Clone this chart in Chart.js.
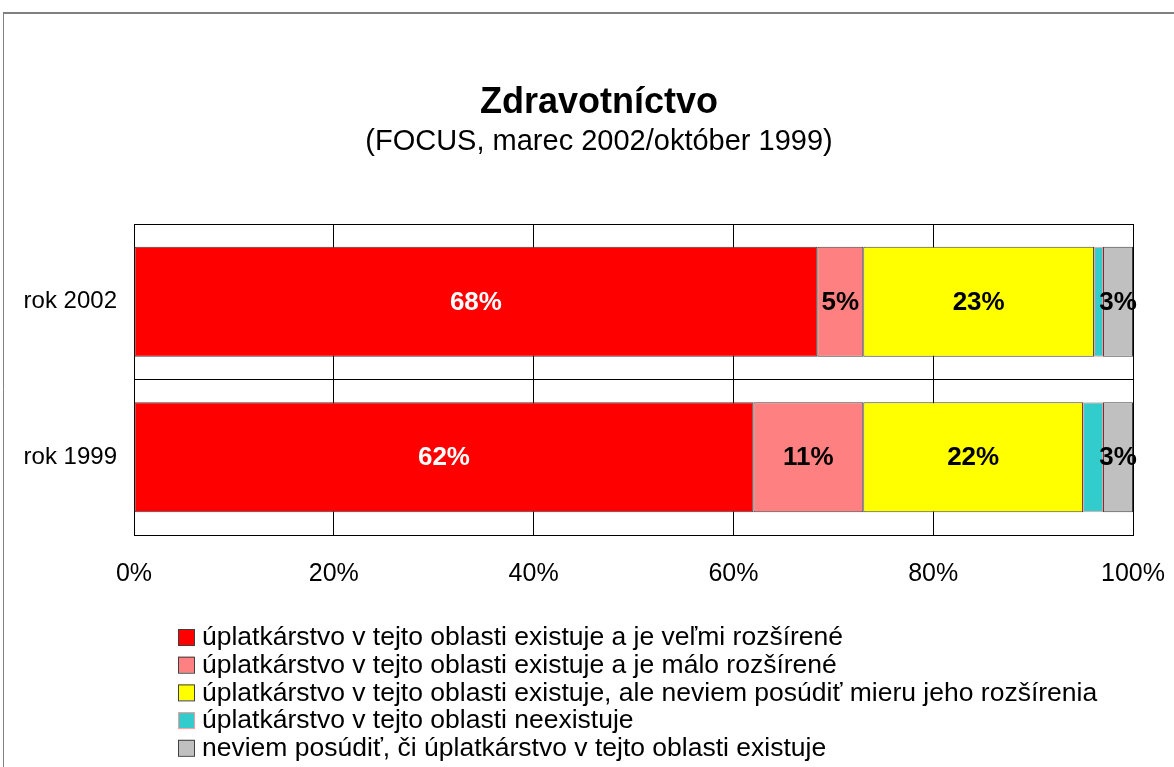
<!DOCTYPE html>
<html>
<head>
<meta charset="utf-8">
<title>Zdravotníctvo</title>
<script src="https://cdn.jsdelivr.net/npm/chart.js@4.4.0/dist/chart.umd.min.js"></script>
<style>
  html, body { margin: 0; padding: 0; background: #fff; }
  canvas { display: block; }
</style>
</head>
<body>
<canvas id="zdravotnictvoChart" width="1174" height="767"></canvas>
<script>
// Kategórie (roky) a hodnoty v percentách, odčítané z grafu
const roky = ["rok 2002", "rok 1999"];
const nazvySerii = [
    "úplatkárstvo v tejto oblasti existuje a je veľmi rozšírené",
    "úplatkárstvo v tejto oblasti existuje a je málo rozšírené",
    "úplatkárstvo v tejto oblasti existuje, ale neviem posúdiť mieru jeho rozšírenia",
    "úplatkárstvo v tejto oblasti neexistuje",
    "neviem posúdiť, či úplatkárstvo v tejto oblasti existuje"
];
const velmiRozsirene = [68.4, 62];
const maloRozsirene = [4.6, 11];
const neviemMieru = [23.1, 22];
const neexistuje = [0.9, 2];
const neviemCi = [3, 3];
// Popisky nad segmentmi (null = bez popisku)
const popisky = [
    ["68%", "62%"],
    ["5%", "11%"],
    ["23%", "22%"],
    [null, null],
    ["3%", "3%"]
];
const xTicky = [0, 20, 40, 60, 80, 100];

const farby = ['#ff0000', '#ff8080', '#ffff00', '#33cccc', '#c0c0c0'];
const okraje = ['#404040', '#404040', '#404040', '#ff9999', '#404040'];
const farbyPopiskov = ['#ffffff', '#000000', '#000000', '#000000', '#000000'];
const hodnoty = [velmiRozsirene, maloRozsirene, neviemMieru, neexistuje, neviemCi];

const FONT = "'Liberation Sans', Arial, sans-serif";

// Rámček a biele pozadie
const ramcek = {
    id: 'ramcek',
    beforeDraw(chart) {
        const c = chart.ctx;
        c.save();
        c.fillStyle = '#fff';
        c.fillRect(0, 0, chart.width, chart.height);
        c.strokeStyle = '#808080';
        c.lineWidth = 2;
        c.beginPath();
        c.moveTo(3, 13);
        c.lineTo(chart.width, 13);
        c.stroke();
        c.lineWidth = 1;
        c.beginPath();
        c.moveTo(3.5, 12);
        c.lineTo(3.5, chart.height);
        c.stroke();
        c.restore();
    }
};

// Nadpis je v origináli trochu posunutý doprava
const posunNadpisu = {
    id: 'posunNadpisu',
    afterLayout(chart) {
        chart.boxes.forEach(box => {
            if (box.position === 'top' && !(box instanceof Chart.Scale)) {
                box.left += 32.5;
                box.right += 32.5;
            }
        });
    }
};

// Percentá v strede segmentov
const popiskySegmentov = {
    id: 'popiskySegmentov',
    afterDatasetsDraw(chart) {
        const c = chart.ctx;
        c.save();
        c.font = "bold 26px " + FONT;
        c.textAlign = 'center';
        c.textBaseline = 'middle';
        chart.data.datasets.forEach((ds, i) => {
            chart.getDatasetMeta(i).data.forEach((bar, j) => {
                const text = popisky[i][j];
                if (!text) return;
                c.fillStyle = farbyPopiskov[i];
                c.fillText(text, (bar.x + bar.base) / 2, bar.y + 1);
            });
        });
        c.restore();
    }
};

// Legenda pod grafom, jedna položka na riadok
const legenda = {
    id: 'legenda',
    afterDraw(chart) {
        const c = chart.ctx;
        c.save();
        c.font = "26.5px " + FONT;
        c.textBaseline = 'middle';
        chart.data.datasets.forEach((ds, i) => {
            const y = 637 + i * 27.7;
            c.fillStyle = ds.backgroundColor;
            c.fillRect(178, y - 8, 16, 16);
            c.strokeStyle = ds.borderColor;
            c.lineWidth = 1;
            c.strokeRect(178.5, y - 7.5, 16, 16);
            c.fillStyle = '#000';
            c.fillText(ds.label, 202, y + 1);
        });
        c.restore();
    }
};

const data = {
    labels: roky,
    datasets: nazvySerii.map((nazov, i) => ({
        label: nazov,
        data: hodnoty[i],
        backgroundColor: farby[i],
        borderColor: okraje[i],
        borderWidth: 1,
        borderSkipped: false,
        barPercentage: 0.707,
        categoryPercentage: 1
    }))
};

const options = {
    responsive: false,
    animation: false,
    indexAxis: 'y',
    layout: {
        padding: { left: 0, right: 41, top: 0, bottom: 172 }
    },
    scales: {
        x: {
            stacked: true,
            min: 0,
            max: 100,
            afterBuildTicks: (scale) => { scale.ticks = xTicky.map(v => ({ value: v })); },
            afterFit: (scale) => {
                scale.height = 60;
                scale.paddingLeft = 0;
                scale.paddingRight = 0;
            },
            ticks: {
                color: '#000',
                font: { family: FONT, size: 25 },
                padding: 24,
                callback: (v) => v + '%'
            },
            grid: { color: '#000', lineWidth: 1, drawTicks: false },
            border: { color: '#000', width: 1 }
        },
        y: {
            stacked: true,
            afterFit: (scale) => { scale.width = 134; },
            ticks: {
                color: '#000',
                font: { family: FONT, size: 24 },
                padding: 17
            },
            grid: { color: '#000', lineWidth: 1, drawTicks: false, offset: true },
            border: { color: '#000', width: 1 }
        }
    },
    plugins: {
        legend: { display: false },
        tooltip: { enabled: false },
        title: {
            display: true,
            text: 'Zdravotníctvo',
            color: '#000',
            font: { family: FONT, size: 36, weight: 'bold', lineHeight: 1.2 },
            padding: { top: 81, bottom: 0 }
        },
        subtitle: {
            display: true,
            text: '(FOCUS, marec 2002/október 1999)',
            color: '#000',
            font: { family: FONT, size: 29, weight: 'normal', lineHeight: 1.2 },
            padding: { top: 0, bottom: 65 }
        }
    }
};

const ctx = document.getElementById('zdravotnictvoChart').getContext('2d');
const zdravotnictvoChart = new Chart(ctx, {
    type: 'bar',
    data: data,
    options: options,
    plugins: [ramcek, posunNadpisu, popiskySegmentov, legenda]
});
</script>
</body>
</html>
